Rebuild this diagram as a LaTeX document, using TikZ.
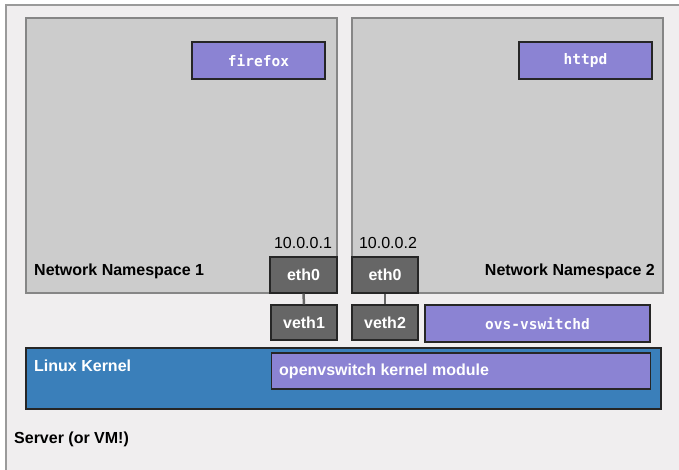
\documentclass[tikz,border=0pt]{standalone}
\usepackage{fontspec}
\setmainfont{Liberation Sans}
\newfontfamily\monofnt{DejaVu Sans Mono}
\definecolor{bgc}{HTML}{F0EEEF}
\definecolor{framec}{HTML}{9A9A9A}
\definecolor{nsc}{HTML}{CCCCCC}
\definecolor{nsborder}{HTML}{868686}
\definecolor{ethc}{HTML}{666666}
\definecolor{purp}{HTML}{8B83D3}
\definecolor{kblue}{HTML}{3A7FBA}
\tikzset{
  nsbox/.style={draw=nsborder, fill=nsc, line width=1.3pt, inner sep=0pt},
  procbox/.style={draw=black!85, fill=purp, line width=1.3pt, inner sep=0pt, text=white, font=\monofnt\bfseries\fontsize{14.5}{16}\selectfont},
  ethbox/.style={draw=black!85, fill=ethc, line width=1.3pt, inner sep=0pt, text=white, font=\bfseries\fontsize{16}{18}\selectfont},
  kernbox/.style={draw=black!85, fill=kblue, line width=1.3pt, inner sep=0pt},
  modbox/.style={draw=black!85, fill=purp, line width=1.3pt, inner sep=0pt, text=white, font=\bfseries\fontsize{16}{18}\selectfont},
  lbl/.style={inner sep=0pt, font=\bfseries\fontsize{16}{18}\selectfont},
  iplbl/.style={inner sep=0pt, font=\fontsize{16}{18}\selectfont},
  link/.style={draw=ethc, line width=2.5pt}
}
\begin{document}
\begin{tikzpicture}[x=1pt,y=-1pt]
\useasboundingbox (0,0) rectangle (679,469);
\clip (0,0) rectangle (679,469);
\fill[white] (0,0) rectangle (679,469);
\draw[fill=bgc, draw=framec, line width=1.5pt] (6,5) rectangle (720,520);
% namespaces
\node[nsbox, minimum width=311pt, minimum height=275pt] (ns1) at (181.5,155.5) {};
\node[nsbox, minimum width=311pt, minimum height=275pt] (ns2) at (507.5,155.5) {};
% processes
\node[procbox, minimum width=133pt, minimum height=37pt] (ff) at (258.5,60.5) {firefox};
\node[procbox, minimum width=133pt, minimum height=37pt] (httpd) at (585.5,60.5) {httpd};
% namespace labels
\node[lbl, anchor=west] (ns1l) at (34,271) {Network Namespace 1};
\node[lbl, anchor=east] (ns2l) at (655,271) {Network Namespace 2};
% eth
\node[ethbox, minimum width=67pt, minimum height=36pt] (eth1) at (303.5,275) {eth0};
\node[ethbox, minimum width=66pt, minimum height=36pt] (eth2) at (385,275) {eth0};
\node[iplbl, anchor=south] (ip1) at (303,249) {10.0.0.1};
\node[iplbl, anchor=south] (ip2) at (388,249) {10.0.0.2};
% veth
\node[ethbox, minimum width=66pt, minimum height=35pt] (veth1) at (304,322.5) {veth1};
\node[ethbox, minimum width=66pt, minimum height=35pt] (veth2) at (385,322.5) {veth2};
\draw[link] (eth1.south) -- (veth1.north);
\draw[link] (eth2.south) -- (veth2.north);
% ovs-vswitchd
\node[procbox, minimum width=225pt, minimum height=37pt] (ovsd) at (537.5,323.5) {ovs-vswitchd};
% kernel
\node[kernbox, minimum width=635pt, minimum height=61pt] (kern) at (343.5,378.5) {};
\node[lbl, anchor=west, text=white] (kernl) at (34,366) {Linux Kernel};
\node[modbox, minimum width=379pt, minimum height=36pt, anchor=west] (mod) at (271,371) {};
\node[lbl, anchor=west, text=white] (modl) at (279,371) {openvswitch kernel module};
% server label
\node[lbl, anchor=west] (srv) at (14,439) {Server (or VM!)};
\end{tikzpicture}
\end{document}
